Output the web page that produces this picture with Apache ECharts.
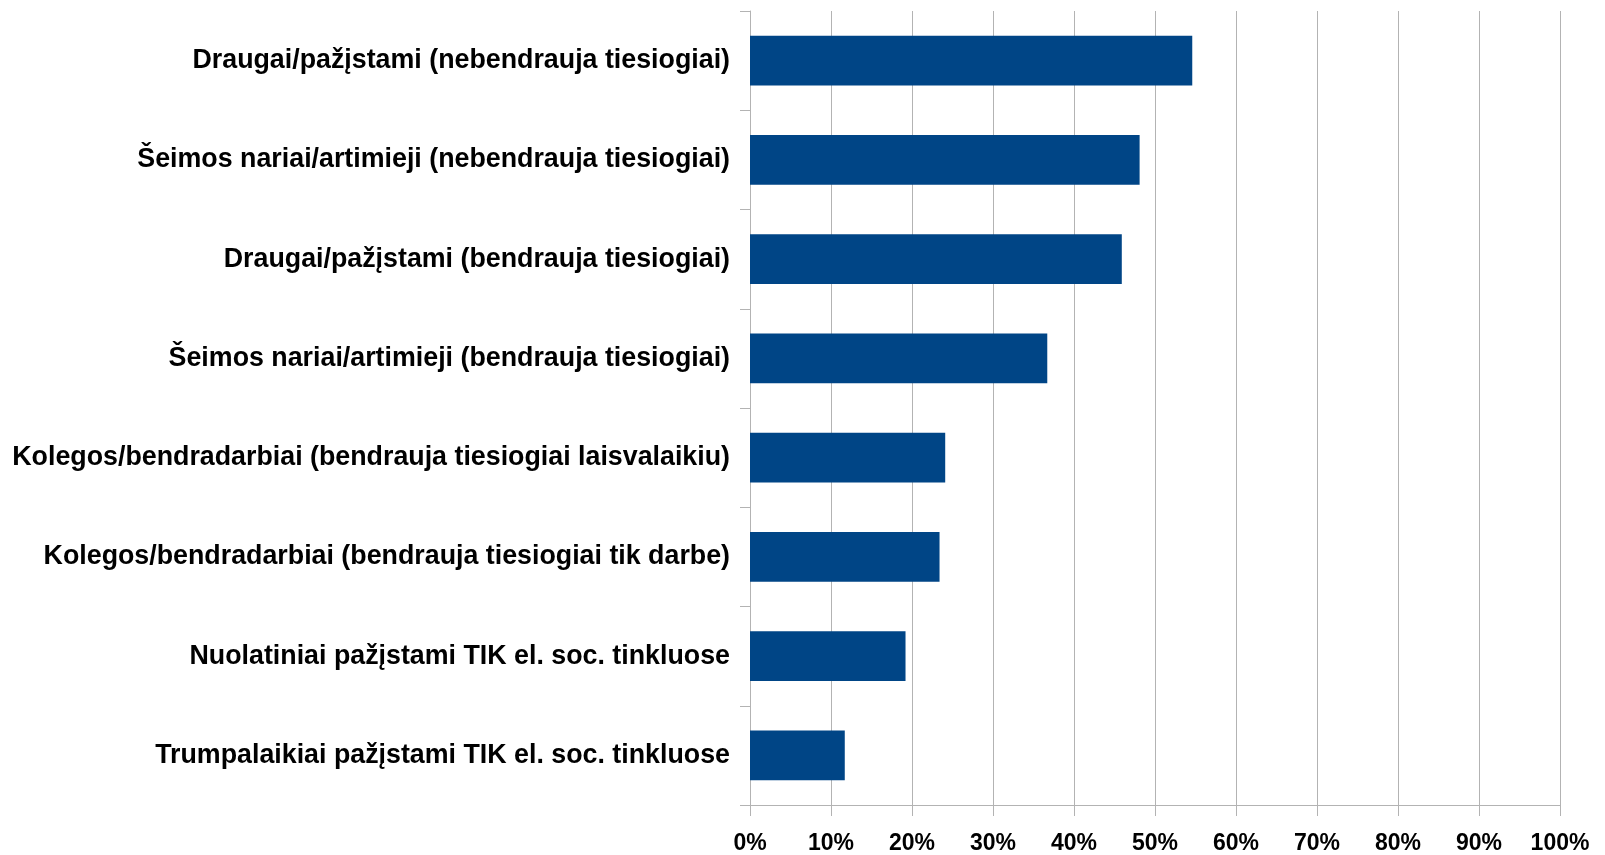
<!DOCTYPE html>
<html>
<head>
<meta charset="utf-8">
<script src="https://cdn.jsdelivr.net/npm/echarts@6/dist/echarts.min.js"></script>
<style>
html,body{margin:0;padding:0;background:#fff;}
#chart{width:1605px;height:855px;}
</style>
</head>
<body>
<div id="chart"></div>
<script>
const categories = [
  'Draugai/pažįstami (nebendrauja tiesiogiai)',
  'Šeimos nariai/artimieji (nebendrauja tiesiogiai)',
  'Draugai/pažįstami (bendrauja tiesiogiai)',
  'Šeimos nariai/artimieji (bendrauja tiesiogiai)',
  'Kolegos/bendradarbiai (bendrauja tiesiogiai laisvalaikiu)',
  'Kolegos/bendradarbiai (bendrauja tiesiogiai tik darbe)',
  'Nuolatiniai pažįstami TIK el. soc. tinkluose',
  'Trumpalaikiai pažįstami TIK el. soc. tinkluose'
];
const values = [54.6, 48.1, 45.9, 36.7, 24.1, 23.4, 19.2, 11.7];
const axisMin = 0;
const axisMax = 100;
const axisStep = 10;

const chart = echarts.init(document.getElementById('chart'), null, {renderer: 'canvas'});
const font = '"Liberation Sans", Arial, sans-serif';
chart.setOption({
  animation: false,
  backgroundColor: '#ffffff',
  grid: {left: 750, right: 45, top: 11, bottom: 46, containLabel: false},
  xAxis: {
    type: 'value',
    min: axisMin, max: axisMax, interval: axisStep,
    axisLine: {show: true, lineStyle: {color: '#b3b3b3', width: 1}},
    axisTick: {show: true, length: 11, lineStyle: {color: '#b3b3b3', width: 1}},
    splitLine: {show: true, lineStyle: {color: '#b3b3b3', width: 1}},
    axisLabel: {
      formatter: '{value}%', color: '#000', fontSize: 23, fontWeight: 'bold',
      fontFamily: font, margin: 27
    }
  },
  yAxis: {
    type: 'category',
    data: categories,
    inverse: true,
    axisLine: {show: true, lineStyle: {color: '#b3b3b3', width: 1}},
    axisTick: {show: true, length: 10, alignWithLabel: false, lineStyle: {color: '#b3b3b3', width: 1}},
    splitLine: {show: false},
    axisLabel: {
      color: '#000', fontSize: 26.8, fontWeight: 'bold', fontFamily: font, margin: 20
    }
  },
  series: [{
    type: 'bar',
    data: values,
    barWidth: '50%',
    itemStyle: {color: '#004586'}
  }]
});
</script>
</body>
</html>
